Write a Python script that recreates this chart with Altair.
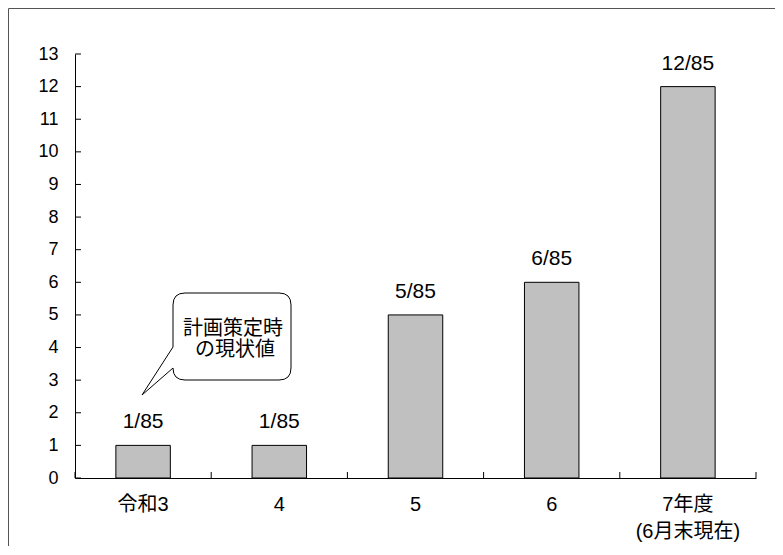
import altair as alt
import pandas as pd

categories = ["令和3", "4", "5", "6", "7年度\n(6月末現在)"]
values = [1, 1, 5, 6, 12]
value_labels = ["1/85", "1/85", "5/85", "6/85", "12/85"]
y_ticks = list(range(0, 14))
callout_lines = ["計画策定時", "の現状値"]

W, H = 681, 424
FONT = '"Liberation Sans", Arial, "Noto Sans CJK JP", sans-serif'

df = pd.DataFrame({"cat": categories, "val": values, "lab": value_labels})
ticks_df = pd.DataFrame({"val": y_ticks})

xscale = alt.Scale(type="band", paddingInner=0, paddingOuter=0)
yscale = alt.Scale(domain=[0, 13], nice=False, zero=True)

x_axis = alt.Axis(title=None, labelAngle=0, ticks=False, tickSize=0,
                  domainColor="black", labelColor="black",
                  labelFontSize=20, labelFont=FONT, labelPadding=16,
                  labelBaseline="top", labelLineHeight=27,
                  labelOverlap=False,
                  labelExpr="split(datum.label, '\\n')", grid=False)
y_axis = alt.Axis(title=None, values=y_ticks, ticks=False, tickSize=0,
                  domainColor="black", labelColor="black",
                  labelFontSize=18, labelFont=FONT, labelPadding=17,
                  labelOverlap=False, labelFlush=False, grid=False)

x_enc = alt.X("cat:N", sort=categories, scale=xscale, axis=x_axis)
y_enc = alt.Y("val:Q", scale=yscale, axis=y_axis)

bars = alt.Chart(df).mark_bar(width={"band": 0.4}, fill="#c0c0c0",
                              stroke="black", strokeWidth=1).encode(x=x_enc, y=y_enc)

labels = alt.Chart(df).mark_text(baseline="alphabetic", dy=-17, fontSize=21,
                                 font=FONT, color="black").encode(
    x=x_enc, y=y_enc, text="lab:N")

ytick_marks = alt.Chart(ticks_df).mark_rule(color="black", strokeWidth=1).encode(
    y=y_enc, x=alt.value(0), x2=alt.value(6))

xtick_marks = alt.Chart(df).mark_rule(color="black", strokeWidth=1).encode(
    x=alt.X("cat:N", sort=categories, scale=xscale, axis=x_axis, bandPosition=0),
    y=alt.value(H), y2=alt.value(H - 6))

xtick_end = alt.Chart(df.head(1)).mark_rule(color="black", strokeWidth=1).encode(
    x=alt.value(W), y=alt.value(H), y2=alt.value(H - 6))

# callout bubble (annotation shape, pixel path relative to plot origin)
callout_path = ("M 110 239 L 204 239 Q 216 239 216 251 L 216 314 Q 216 326 204 326 "
                "L 110 326 Q 98 326 98 314 L 67 341 L 98 293 L 98 251 Q 98 239 110 239 Z")
bubble = alt.Chart(df.head(1)).mark_point(
    shape=callout_path, size=4, filled=False, fill="white", fillOpacity=1,
    stroke="black", strokeWidth=1, opacity=1).encode(x=alt.value(0), y=alt.value(0))

ctext1 = alt.Chart(df.head(1)).mark_text(fontSize=20, font=FONT, color="black",
                                         baseline="middle", text=callout_lines[0]).encode(
    x=alt.value(158), y=alt.value(275))
ctext2 = alt.Chart(df.head(1)).mark_text(fontSize=20, font=FONT, color="black",
                                         baseline="middle", text=callout_lines[1]).encode(
    x=alt.value(160), y=alt.value(296))

# outer frame (top and left edges visible)
frame_top = alt.Chart(df.head(1)).mark_rule(color="#555555", strokeWidth=1).encode(
    x=alt.value(-66.5), x2=alt.value(W + 100), y=alt.value(-45.5))
frame_left = alt.Chart(df.head(1)).mark_rule(color="#555555", strokeWidth=1).encode(
    x=alt.value(-66.5), y=alt.value(-45.5), y2=alt.value(H + 200))

chart = alt.layer(frame_top, frame_left, bars, labels, ytick_marks, xtick_marks,
                  xtick_end, bubble, ctext1, ctext2).properties(
    width=W, height=H,
    autosize=alt.AutoSizeParams(type="none"),
    padding={"left": 67, "top": 46, "right": 19, "bottom": 68},
    background="white",
).configure_view(stroke=None)

chart.save("out.html", embed_options={"renderer": "svg", "actions": False})
